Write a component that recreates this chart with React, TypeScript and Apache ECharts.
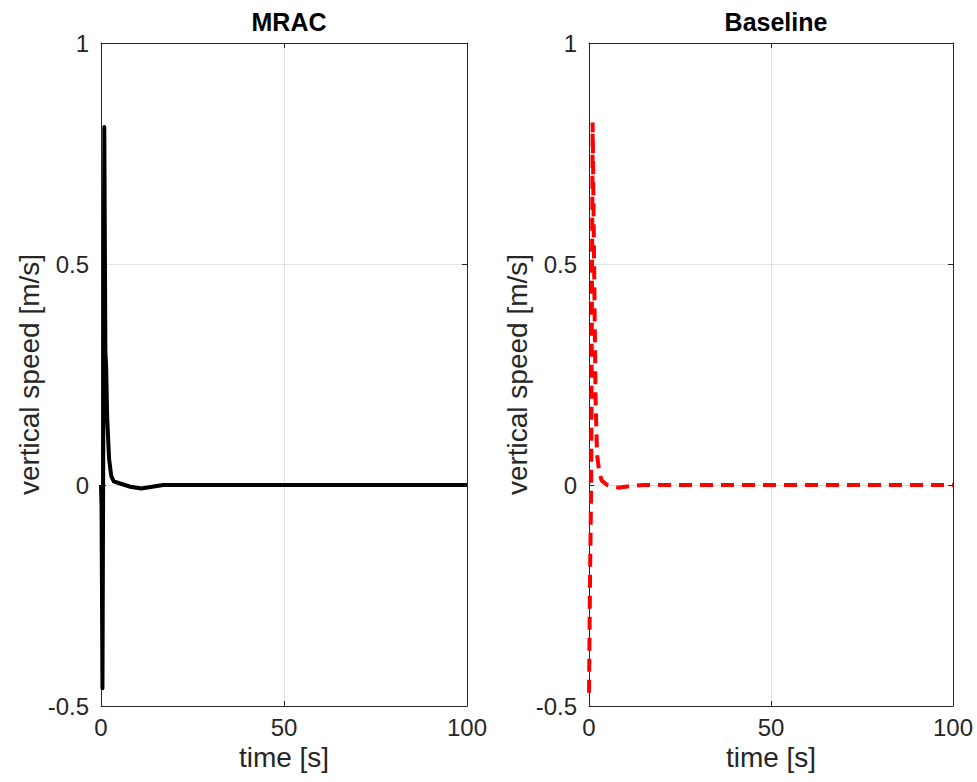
import React, { useEffect, useRef } from "react";
import * as echarts from "echarts";

// Vertical speed response, MRAC controller
const mracTime = [0, 0.15, 0.4, 0.9, 1.2, 1.4, 1.7, 2.2, 2.8, 3.5, 5, 8, 11, 14, 17, 20, 30, 40, 50, 60, 70, 80, 90, 100];
const mracSpeed = [0, -0.05, -0.46, 0.81, 0.3, 0.27, 0.15, 0.06, 0.02, 0.008, 0.004, -0.004, -0.008, -0.004, 0, 0, 0, 0, 0, 0, 0, 0, 0, 0];

// Vertical speed response, baseline controller
const baselineTime = [0, 0.3, 0.6, 1.0, 1.4, 1.8, 2.2, 2.8, 3.5, 5, 8, 11, 15, 20, 30, 40, 50, 60, 70, 80, 90, 100];
const baselineSpeed = [-0.47, -0.2, 0.0, 0.82, 0.5, 0.2, 0.07, 0.03, 0.01, 0.0, -0.006, -0.003, 0, 0, 0, 0, 0, 0, 0, 0, 0, 0];

const panelTitles = ["MRAC", "Baseline"];
const xTicks = { min: 0, max: 100, interval: 50 };
const yTicks = { min: -0.5, max: 1, interval: 0.5 };

const FONT = "'Liberation Sans', Arial, Helvetica, sans-serif";
const AXIS_COLOR = "#262626";
const GRID_COLOR = "#e3e3e3";

const grids = [
  { left: 101, top: 43, width: 366, height: 663 },
  { left: 589, top: 43, width: 364, height: 663 },
];

function zip(t: number[], v: number[]) {
  return t.map((x, i) => [x, v[i]]);
}

export default function App() {
  const ref = useRef<HTMLDivElement>(null);

  useEffect(() => {
    if (!ref.current) return;
    const chart = echarts.init(ref.current, null, { renderer: "svg" });

    const xAxes: any[] = [];
    const yAxes: any[] = [];
    grids.forEach((_, gi) => {
      const lineStyle = { color: AXIS_COLOR, width: 1 };
      // bottom x axis with labels
      xAxes.push({
        gridIndex: gi,
        type: "value",
        position: "bottom",
        ...xTicks,
        name: "time [s]",
        nameLocation: "middle",
        nameGap: 37,
        nameTextStyle: { fontFamily: FONT, fontSize: 28, color: AXIS_COLOR },
        axisLine: { show: true, onZero: false, lineStyle },
        axisTick: { show: true, inside: true, length: 5, lineStyle },
        axisLabel: { fontFamily: FONT, fontSize: 24, color: AXIS_COLOR, margin: 9 },
        splitLine: { show: true, lineStyle: { color: GRID_COLOR, width: 1 } },
      });
      // top x axis closing the box
      xAxes.push({
        gridIndex: gi,
        type: "value",
        position: "top",
        ...xTicks,
        axisLine: { show: true, onZero: false, lineStyle },
        axisTick: { show: true, inside: true, length: 5, lineStyle },
        axisLabel: { show: false },
        splitLine: { show: false },
      });
      yAxes.push({
        gridIndex: gi,
        type: "value",
        position: "left",
        ...yTicks,
        name: "vertical speed [m/s]",
        nameLocation: "middle",
        nameGap: 57,
        nameRotate: 90,
        nameTextStyle: { fontFamily: FONT, fontSize: 28, color: AXIS_COLOR },
        axisLine: { show: true, onZero: false, lineStyle },
        axisTick: { show: true, inside: true, length: 5, lineStyle },
        axisLabel: { fontFamily: FONT, fontSize: 24, color: AXIS_COLOR, margin: 12 },
        splitLine: { show: true, lineStyle: { color: GRID_COLOR, width: 1 } },
      });
      yAxes.push({
        gridIndex: gi,
        type: "value",
        position: "right",
        ...yTicks,
        axisLine: { show: true, onZero: false, lineStyle },
        axisTick: { show: true, inside: true, length: 5, lineStyle },
        axisLabel: { show: false },
        splitLine: { show: false },
      });
    });

    chart.setOption({
      animation: false,
      backgroundColor: "#ffffff",
      title: panelTitles.map((text, i) => ({
        text,
        left: grids[i].left + grids[i].width / 2,
        top: 4,
        textAlign: "center",
        textStyle: { fontFamily: FONT, fontSize: 25, fontWeight: "bold", color: "#000" },
      })),
      grid: grids,
      xAxis: xAxes,
      yAxis: yAxes,
      series: [
        {
          name: "MRAC",
          type: "line",
          xAxisIndex: 0,
          yAxisIndex: 0,
          data: zip(mracTime, mracSpeed),
          showSymbol: false,
          symbol: "none",
          clip: false,
          lineStyle: { color: "#000000", width: 4, join: "round" },
        },
        {
          name: "Baseline",
          type: "line",
          xAxisIndex: 2,
          yAxisIndex: 2,
          data: zip(baselineTime, baselineSpeed),
          showSymbol: false,
          symbol: "none",
          clip: false,
          lineStyle: { color: "#ff0000", width: 4, type: [13, 8] },
        },
      ],
    });

    return () => chart.dispose();
  }, []);

  return (
    <div
      ref={ref}
      style={{ position: "absolute", left: 0, top: 0, width: 977, height: 782 }}
    />
  );
}
